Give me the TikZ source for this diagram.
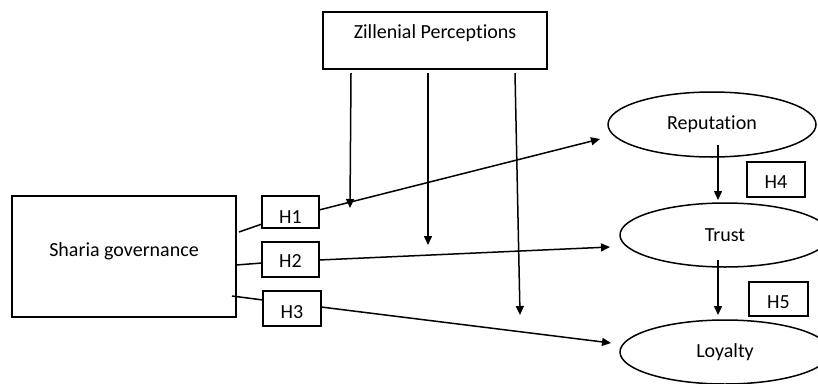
\documentclass[tikz,border=0pt]{standalone}
\usepackage{fontspec}
\setmainfont{Carlito}[RawFeature=-liga]
\usetikzlibrary{arrows.meta,shapes.geometric}
\begin{document}
\begin{tikzpicture}[x=1pt,y=-1pt,
  line/.style={line width=1.5pt,black},
  tip/.style={-{Triangle[length=9pt,width=8pt]}},
  boxn/.style={draw,line width=1.5pt,rectangle,inner sep=0pt,font=\fontsize{20}{22}\selectfont},
  ell/.style={draw,line width=1.5pt,ellipse,inner sep=0pt,font=\fontsize{20}{22}\selectfont}]
\useasboundingbox (0,0) rectangle (818,383);
\clip (0,0) rectangle (818,383);
\fill[white] (0,0) rectangle (818,383);
% main boxes
\node[boxn,minimum width=224pt,minimum height=57pt,text height=14pt,text depth=19pt] (zp) at (435,40.5) {Zillenial Perceptions};
\node[boxn,minimum width=224pt,minimum height=121pt,text height=14pt,text depth=14pt] (sg) at (124,256.5) {Sharia governance};
% H boxes
\node[boxn,minimum width=57pt,minimum height=32pt,text height=23pt,text depth=1pt] (h1) at (290.5,212) {H1};
\node[boxn,minimum width=57pt,minimum height=35pt,text height=16pt,text depth=1pt] (h2) at (290.5,259.5) {H2};
\node[boxn,minimum width=58pt,minimum height=35pt,text height=20pt,text depth=1pt] (h3) at (292,308.5) {H3};
\node[boxn,minimum width=58pt,minimum height=35pt,text height=18pt,text depth=1pt] (h4) at (776,179.5) {H4};
\node[boxn,minimum width=59pt,minimum height=34pt,text height=19pt,text depth=1pt] (h5) at (778.5,299) {H5};
% ellipses
\node[ell,minimum width=208pt,minimum height=65pt] (rep) at (712,124.5) {Reputation};
\node[ell,minimum width=210pt,minimum height=64pt] (tr) at (725,235) {Trust};
\node[ell,minimum width=210pt,minimum height=64pt] (loy) at (725,352) {Loyalty};
% connector points
\coordinate (s1) at (239,232);
\coordinate (s2) at (236,265);
\coordinate (s3) at (232,296);
\coordinate (h1i) at (262,224);
\coordinate (h1o) at (319,210);
\coordinate (h2i) at (262,263);
\coordinate (h2o) at (319,260);
\coordinate (h3i) at (263,300);
\coordinate (h3o) at (321,307);
\coordinate (repi) at (600,139);
\coordinate (tri) at (610,247);
\coordinate (loyi) at (611,343);
\coordinate (z1) at (351,73);
\coordinate (z2) at (428,73);
\coordinate (z3) at (515,73);
\coordinate (m1) at (350,208);
\coordinate (m2) at (428,245);
\coordinate (m3) at (520,315);
\coordinate (r1) at (718,145);
\coordinate (r2) at (718,200);
\coordinate (t1) at (718,260);
\coordinate (t2) at (718,315);
% connectors
\draw[line] (s1) -- (h1i);
\draw[line] (s2) -- (h2i);
\draw[line] (s3) -- (h3i);
\draw[line,tip] (h1o) -- (repi);
\draw[line,tip] (h2o) -- (tri);
\draw[line,tip] (h3o) -- (loyi);
\draw[line,tip] (z1) -- (m1);
\draw[line,tip] (z2) -- (m2);
\draw[line,tip] (z3) -- (m3);
\draw[line,tip] (r1) -- (r2);
\draw[line,tip] (t1) -- (t2);
\end{tikzpicture}
\end{document}
